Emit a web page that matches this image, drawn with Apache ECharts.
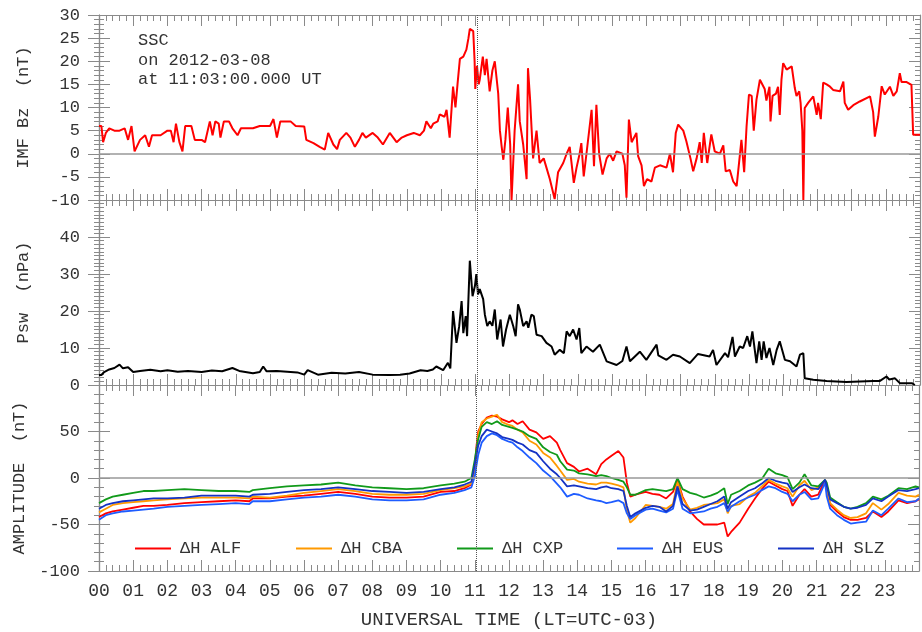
<!DOCTYPE html>
<html><head><meta charset="utf-8">
<script src="https://cdn.jsdelivr.net/npm/echarts@6/dist/echarts.min.js"></script>
<style>html,body{margin:0;padding:0;background:#fff}#c{width:922px;height:632px}</style>
</head><body><div id="c"></div>
<script>
// ---------------- DATA ----------------
const hourLabels = ['00','01','02','03','04','05','06','07','08','09','10','11','12','13','14','15','16','17','18','19','20','21','22','23'];

// IMF Bz (nT): [UT hour, value]
const bzPoints = [
[0.0,6],[0.07,6],[0.12,2.5],[0.2,4.5],[0.3,5.5],[0.45,5],[0.6,5],[0.75,5.5],[0.85,3],[0.95,6],
[1.04,0.5],[1.2,3],[1.35,4],[1.46,1.5],[1.55,4],[1.8,4],[2.0,5],[2.1,5],[2.18,2.5],[2.25,6.5],
[2.35,2.5],[2.44,0.5],[2.52,6],[2.7,6],[2.8,3],[3.0,3],[3.1,2.5],[3.24,7],[3.32,4],[3.4,7],
[3.5,6.5],[3.55,3.5],[3.65,7],[3.8,7],[3.9,5.5],[4.05,4],[4.15,5.5],[4.5,5.5],[4.7,6],[5.0,6],
[5.1,7.5],[5.2,3.5],[5.3,7],[5.6,7],[5.75,6],[6.0,5.9],[6.06,3.0],[6.27,2.3],[6.45,1.5],[6.6,0.9],
[6.7,4.5],[6.85,2],[6.96,1],[7.04,3],[7.23,4.5],[7.35,3.5],[7.48,1.5],[7.6,3],[7.7,4.5],[7.8,3.5],
[8.0,4.5],[8.15,3.5],[8.3,2],[8.5,4.5],[8.7,2.5],[8.85,3.5],[9.0,4],[9.2,4.5],[9.38,4],[9.5,5],
[9.57,7],[9.7,5.5],[9.77,6.5],[9.9,7],[9.96,8.5],[10.1,8],[10.16,9.5],[10.25,3.5],[10.35,14.5],[10.42,10],
[10.48,15],[10.55,20.5],[10.65,21],[10.74,22.5],[10.8,25],[10.84,27],[10.94,26.5],[10.98,20],[11.0,14],[11.05,19],
[11.1,15],[11.13,16],[11.22,21],[11.28,17],[11.33,20.5],[11.42,13.5],[11.5,18],[11.57,20],[11.67,13],[11.72,5],
[11.77,1.6],[11.82,-1.3],[11.88,3],[11.95,10],[12.02,2],[12.06,-10],[12.15,5],[12.25,15],[12.3,7],[12.4,2],
[12.5,-5.5],[12.54,18.5],[12.6,12],[12.69,-1],[12.79,5],[12.88,-2],[13.0,-1],[13.08,-3],[13.18,-5.5],[13.32,-9.8],
[13.42,-4],[13.57,-2],[13.67,0],[13.76,1.5],[13.88,-6.3],[13.96,-3],[14.05,0],[14.1,2.3],[14.17,-4.9],[14.25,0],
[14.4,9.5],[14.47,-2.7],[14.54,10.6],[14.62,0],[14.72,-4.5],[14.84,-1],[14.93,0],[15.03,-1.5],[15.13,0.5],[15.3,0],
[15.37,-2.5],[15.42,-9.5],[15.49,7.4],[15.57,2.5],[15.71,4.5],[15.76,-0.5],[15.86,-2.5],[15.93,-7],[16.02,-5.5],[16.15,-6],
[16.25,-3],[16.4,-2.5],[16.59,-3],[16.69,0],[16.78,-4],[16.86,4.5],[16.93,6.3],[17.08,5],[17.17,2.7],[17.29,-1],
[17.37,-3.8],[17.47,-1],[17.56,2.5],[17.62,-2],[17.68,4.5],[17.78,-2],[17.9,4.2],[18.0,0.5],[18.15,0],[18.25,1.8],
[18.32,-3.8],[18.44,-3.5],[18.54,-6],[18.64,-7],[18.78,3],[18.86,-4],[18.93,5.9],[19.0,12.8],[19.08,12.5],[19.14,5],
[19.22,11.7],[19.32,16],[19.46,14],[19.51,11.5],[19.6,14.5],[19.63,7],[19.69,12.5],[19.79,13],[19.85,14.5],[19.9,8.4],
[19.95,16],[20.0,19.6],[20.1,18.2],[20.25,18.9],[20.34,14.2],[20.39,12.5],[20.47,13.5],[20.51,11],[20.56,5],[20.59,-10],
[20.63,9.9],[20.73,11],[20.88,12.4],[20.98,8.4],[21.02,11],[21.1,7.5],[21.17,15.4],[21.27,15],[21.37,14.5],[21.46,13.8],
[21.66,13.5],[21.76,15.6],[21.8,11],[21.9,9.5],[22.05,10.5],[22.24,11.3],[22.54,12.4],[22.63,9],[22.68,3.7],[22.78,8],
[22.88,14.6],[22.97,12.8],[23.12,14.5],[23.22,12.5],[23.32,13.5],[23.41,17.4],[23.46,15.5],[23.61,15.5],[23.75,14.9],[23.8,4.1],
[24.0,4.1]
];

// Solar wind dynamic pressure Psw (nPa): [UT hour, value]
const pswPoints = [
[0.0,2.7],[0.07,2.7],[0.15,3.5],[0.3,4.2],[0.45,4.6],[0.6,5.5],[0.7,4.5],[0.85,4.8],[1.0,3.5],[1.2,3.8],
[1.5,4.1],[1.8,3.7],[2.0,4],[2.3,3.6],[2.6,3.8],[3.0,3.5],[3.3,3.9],[3.6,3.7],[3.9,4.6],[4.1,3.8],
[4.5,3.2],[4.7,3.5],[4.8,5],[4.9,3.7],[5.2,3.8],[5.5,3.6],[5.8,3.4],[6.0,2.8],[6.1,4],[6.4,2.8],
[6.8,3.3],[7.2,3.1],[7.6,3.5],[8.0,2.8],[8.5,2.7],[8.8,2.8],[9.08,3.1],[9.4,4],[9.6,3.8],[9.76,4.2],
[9.86,5],[10.06,4],[10.2,6],[10.27,4.5],[10.35,20],[10.45,11.4],[10.53,15.9],[10.6,22.7],[10.65,14],[10.72,18.6],
[10.76,13.2],[10.84,33.6],[10.92,24],[10.99,26.8],[11.03,30],[11.08,24.5],[11.13,25.9],[11.23,23.2],[11.28,19],[11.35,15.9],
[11.42,17.2],[11.5,16],[11.57,20.4],[11.64,12.3],[11.74,17.7],[11.81,10.4],[11.9,15],[12.01,19],[12.11,15.9],[12.18,13.2],
[12.25,21.8],[12.3,20.4],[12.4,15.9],[12.5,17.2],[12.55,15.5],[12.64,19],[12.71,18.6],[12.79,13.6],[12.94,13.2],[13.08,11.4],
[13.23,10.4],[13.32,8.2],[13.47,9.5],[13.59,8.6],[13.67,14.5],[13.76,13.2],[13.86,15],[13.96,12.3],[14.04,15.4],[14.1,8.6],
[14.25,10.4],[14.44,9],[14.64,10.9],[14.84,6.4],[15.13,5.4],[15.3,6.5],[15.42,10.4],[15.52,6.4],[15.81,9],[16.0,6.8],
[16.3,10.9],[16.35,8],[16.59,6.8],[16.78,8.2],[16.98,7.7],[17.27,5.9],[17.51,8.4],[17.56,8.2],[17.85,7.7],[17.95,9.5],
[18.05,5.4],[18.3,8.6],[18.39,7.5],[18.52,13],[18.59,7.7],[18.73,10.4],[18.83,10],[18.95,13.2],[19.03,10.4],[19.1,14.5],
[19.22,5.9],[19.3,11.8],[19.37,6.8],[19.43,11.8],[19.51,7.3],[19.6,10],[19.71,5.4],[19.81,9.5],[19.9,11.8],[20.05,6.8],
[20.2,6.4],[20.39,5],[20.49,8.2],[20.59,8.6],[20.63,1.8],[20.88,1.4],[21.27,1.1],[21.85,0.8],[22.63,1.1],[22.83,1.1],
[23.02,2.3],[23.1,1.5],[23.27,1.8],[23.41,0.5],[23.76,0.5],[23.85,0]
];

// Geomagnetic ΔH amplitudes (nT) on a shared UT grid
const ampTime = [0,0.2,0.4,0.7,1.0,1.3,1.6,2.0,2.5,3.0,3.5,4.0,4.4,4.5,5.0,5.5,6.0,6.5,7.0,7.5,
8.0,8.5,9.0,9.5,10.0,10.4,10.7,10.9,11.0,11.05,11.1,11.2,11.35,11.5,11.65,11.8,12.0,12.1,12.25,12.4,
12.6,12.8,13.0,13.2,13.4,13.5,13.7,13.9,14.05,14.3,14.55,14.7,14.85,15.0,15.2,15.35,15.45,15.55,15.7,16.0,
16.2,16.4,16.6,16.8,16.93,17.08,17.3,17.5,17.7,17.9,18.1,18.3,18.4,18.5,18.75,19.0,19.2,19.4,19.6,19.8,
20.0,20.15,20.3,20.5,20.65,20.85,21.05,21.25,21.3,21.4,21.6,21.8,22.0,22.2,22.45,22.65,22.9,23.1,23.4,23.65,
23.9,24.0];
const alfValues = [-42,-38,-36,-34,-32,-30,-30,-29,-27,-26, -25,-24,-25,-22,-22,-20,-19,-17,-15,-17,
-20,-21,-21,-20,-15,-14,-11,-7,12,35, 50,58,65,67,66,63,60,62,58,61,
52,49,42,45,38,30,16,12,7,10, 4,15,20,24,29,22,-5,-20,-18,-15,
-17,-18,-22,-15,-2,-20,-36,-44,-50,-50, -50,-48,-63,-58,-48,-33,-22,-12,-4,-8,
-12,-14,-30,-18,-12,-20,-18,-2,-12,-29, -36,-42,-45,-45,-43,-36,-42,-36,-24,-27, -25,-23];
const cbaValues = [-37,-33,-29,-27,-26,-25,-24,-23,-22,-21, -21,-21,-22,-20,-21,-19,-16,-14,-12,-14,
-17,-18,-18,-17,-13,-11,-9,-6,10,30, 47,60,64,66,68,60,57,56,52,49,
40,36,27,22,13,8,-2,-1,-4,-6, -7,-5,-5,-6,-8,-10,-35,-48,-43,-29,
-30,-31,-33,-28,-4,-22,-34,-32,-29,-28, -27,-23,-38,-30,-28,-20,-16,-9,-2,-6,
-9,-11,-20,-8,-3,-13,-10,-3,-2,-27, -34,-40,-43,-42,-38,-27,-34,-28,-16,-19, -20,-18];
const cxpValues = [-27,-23,-20,-18,-16,-14,-14,-13,-12,-13, -14,-14,-15,-13,-11,-9,-8,-7,-5,-8,
-10,-11,-12,-11,-8,-6,-4,0,20,32, 42,55,60,58,61,57,55,54,52,50,
45,42,33,28,25,18,9,8,5,4, 2,3,2,0,-2,-4,-10,-18,-18,-13,
-12,-13,-14,-12,0,-12,-16,-18,-21,-19, -16,-11,-28,-18,-14,-8,-5,-1,10,5,
3,1,-12,-5,4,-8,-9,-2,-5,-21, -26,-31,-33,-31,-27,-20,-23,-19,-11,-12, -9,-10];
const eusValues = [-45,-40,-38,-36,-35,-34,-33,-31,-30,-29, -28,-27,-28,-25,-25,-23,-21,-20,-18,-20,
-23,-24,-24,-23,-18,-16,-13,-10,2,14, 25,38,45,48,46,42,39,38,33,29,
22,16,8,2,-6,-10,-20,-17,-18,-22, -24,-25,-27,-26,-24,-27,-38,-44,-40,-34,
-33,-35,-37,-33,-13,-33,-38,-37,-36,-33, -31,-27,-36,-31,-25,-21,-18,-13,-9,-11,
-15,-17,-25,-18,-15,-23,-22,-5,-20,-33, -40,-45,-49,-48,-47,-35,-40,-33,-22,-26, -25,-22];
const slzValues = [-33,-29,-27,-25,-24,-23,-22,-22,-21,-19, -19,-19,-20,-18,-17,-15,-13,-12,-10,-12,
-14,-15,-16,-15,-12,-10,-7,-4,15,25, 35,45,52,50,48,44,42,41,38,36,
30,27,18,10,4,0,-9,-8,-9,-11, -12,-10,-9,-11,-12,-14,-30,-42,-38,-32,
-30,-31,-36,-30,-9,-28,-35,-34,-31,-28, -25,-20,-33,-26,-20,-14,-11,-6,0,-3,
-5,-6,-15,-10,-7,-11,-12,-2,-8,-23, -27,-31,-33,-32,-29,-22,-25,-20,-13,-14, -12,-11];

const stationNames = ['ΔH ALF','ΔH CBA','ΔH CXP','ΔH EUS','ΔH SLZ'];
const stationValues = [alfValues, cbaValues, cxpValues, eusValues, slzValues];
const sscTime = 11.05; // 11:03 UT
const sscText = 'SSC\non 2012-03-08\nat 11:03:00.000 UT';

// ---------------- STYLE ----------------
const FONT = 'Liberation Mono';
const AX = '#8a8a8a';
const TXT = '#333';
const stationColors = ['#ff0000','#ff9900','#119a1a','#1e5cff','#1432c4'];
const legendLeft = [130, 291, 452, 612, 773];

const grids = [
  {left: 99, right: 2, top: 15, height: 185},
  {left: 99, right: 2, top: 200, height: 185},
  {left: 99, right: 2, top: 385, height: 186}
];
const yCfg = [
  {min: -10, max: 30, interval: 5, minor: 5, name: 'IMF Bz  (nT)', hide: null},
  {min: 0, max: 50, interval: 10, minor: 10, name: 'Psw  (nPa)', hide: 50},
  {min: -100, max: 100, interval: 50, minor: 5, name: 'AMPLITUDE  (nT)', hide: 100}
];

const xAxes = [], yAxes = [];
grids.forEach((g, gi) => {
  ['bottom','top'].forEach(pos => {
    const showLab = (gi === 2 && pos === 'bottom');
    xAxes.push({
      type: 'value', gridIndex: gi, position: pos, min: 0, max: 24, interval: 1,
      axisLine: {show: true, onZero: false, lineStyle: {color: AX, width: 1.2}},
      axisTick: {show: true, inside: true, length: 11, lineStyle: {color: AX, width: 1}},
      minorTick: {show: true, splitNumber: 5, length: 6, lineStyle: {color: AX, width: 1}},
      splitLine: {show: false}, minorSplitLine: {show: false},
      axisLabel: {show: showLab, margin: 11, fontFamily: FONT, fontSize: 18, color: TXT,
        formatter: v => (v >= 0 && v < 24) ? hourLabels[Math.round(v)] : ''},
      name: showLab ? 'UNIVERSAL TIME (LT=UTC-03)' : '',
      nameLocation: 'middle', nameGap: 39,
      nameTextStyle: {fontFamily: FONT, fontSize: 19, color: TXT}
    });
  });
  const c = yCfg[gi];
  const base = {type: 'value', gridIndex: gi, min: c.min, max: c.max, interval: c.interval,
    splitLine: {show: false}, minorSplitLine: {show: false},
    axisLine: {show: true, onZero: false, lineStyle: {color: AX, width: 1.2}}};
  yAxes.push(Object.assign({}, base, {
    position: 'left',
    axisTick: {show: true, inside: false, length: 11, lineStyle: {color: AX}},
    minorTick: {show: true, splitNumber: c.minor, length: 5, lineStyle: {color: AX}},
    axisLabel: {show: true, margin: 19, fontFamily: FONT, fontSize: 17, color: TXT,
      formatter: v => (c.hide !== null && v === c.hide) ? '' : String(v)},
    name: c.name, nameLocation: 'middle', nameGap: 67,
    nameTextStyle: {fontFamily: FONT, fontSize: 17, color: TXT}
  }));
  yAxes.push(Object.assign({}, base, {
    position: 'left',
    axisTick: {show: true, inside: true, length: 11, lineStyle: {color: AX}},
    minorTick: {show: true, splitNumber: c.minor, length: 5, lineStyle: {color: AX}},
    axisLabel: {show: false}
  }));
  yAxes.push(Object.assign({}, base, {
    position: 'right',
    axisTick: {show: true, inside: true, length: 11, lineStyle: {color: AX}},
    minorTick: {show: true, splitNumber: c.minor, length: 5, lineStyle: {color: AX}},
    axisLabel: {show: false}
  }));
});

function marks(withZero) {
  const d = [];
  if (withZero) d.push({yAxis: 0, lineStyle: {color: '#999', width: 1.5, type: 'solid'}});
  d.push({xAxis: sscTime, lineStyle: {color: '#555', width: 1, type: 'dotted'}});
  return {silent: true, symbol: ['none','none'], label: {show: false}, animation: false, data: d};
}

const series = [
  {type: 'line', name: 'IMF Bz', xAxisIndex: 0, yAxisIndex: 0, data: bzPoints,
   symbol: 'none', color: '#ff0000', lineStyle: {color: '#ff0000', width: 2}, markLine: marks(true), z: 3},
  {type: 'line', name: 'Psw', xAxisIndex: 2, yAxisIndex: 3, data: pswPoints,
   symbol: 'none', color: '#000', lineStyle: {color: '#000', width: 2}, markLine: marks(false), z: 3}
];
stationNames.forEach((n, i) => {
  series.push({
    type: 'line', name: n, xAxisIndex: 4, yAxisIndex: 6,
    data: ampTime.map((t, k) => [t, stationValues[i][k]]),
    symbol: 'none', color: stationColors[i], lineStyle: {color: stationColors[i], width: 1.8},
    markLine: i === 0 ? marks(true) : undefined, z: 3
  });
});

const legends = stationNames.map((n, i) => ({
  data: [n], left: legendLeft[i], top: 535, icon: 'rect', itemWidth: 36, itemHeight: 2,
  selectedMode: false,
  textStyle: {fontFamily: FONT, fontSize: 17, color: TXT, padding: [0, 0, 0, 4]}
}));

const chart = echarts.init(document.getElementById('c'), null, {renderer: 'canvas'});
chart.setOption({
  animation: false,
  backgroundColor: '#fff',
  title: {text: sscText, left: 133, top: 26,
    textStyle: {fontFamily: FONT, fontSize: 17, fontWeight: 'normal', color: TXT, lineHeight: 19.5}},
  grid: grids,
  xAxis: xAxes,
  yAxis: yAxes,
  legend: legends,
  series: series
});
</script>
</body></html>
